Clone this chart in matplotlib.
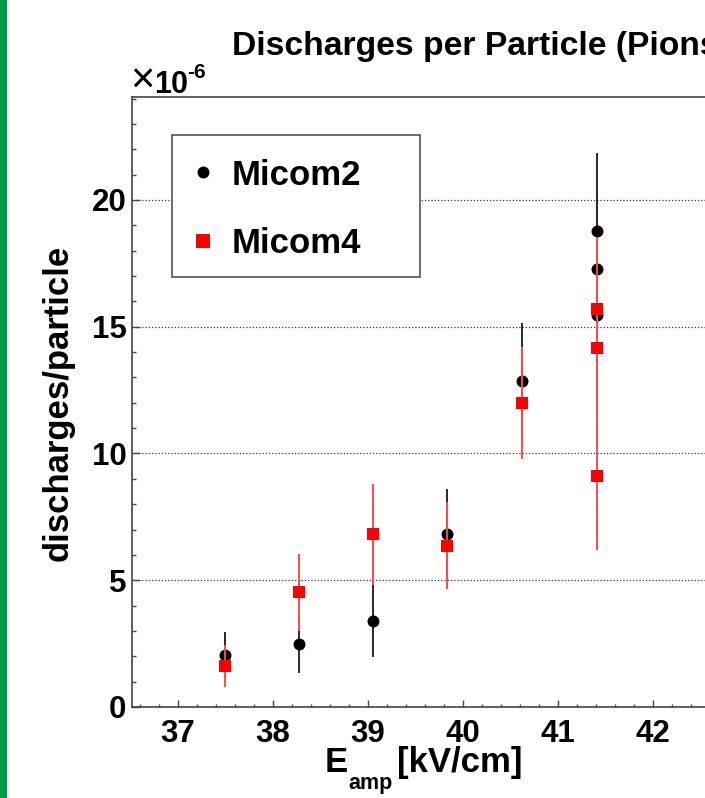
import matplotlib
matplotlib.use("Agg")
import matplotlib.pyplot as plt
from matplotlib.lines import Line2D
from matplotlib.patches import Rectangle
from matplotlib.ticker import MultipleLocator

# Amplification field [kV/cm] and discharge probability (units of 1e-6)
e_micom2 = [37.5, 38.28, 39.06, 39.84, 40.63, 41.41, 41.41, 41.41]
rate_micom2 = [2.05, 2.50, 3.38, 6.82, 12.87, 18.78, 17.27, 15.46]
err_micom2 = [0.92, 1.15, 1.42, 1.78, 2.29, 3.06, 2.95, 3.78]

e_micom4 = [37.5, 38.28, 39.06, 39.84, 40.63, 41.41, 41.41, 41.41]
rate_micom4 = [1.63, 4.52, 6.81, 6.36, 12.00, 15.69, 14.17, 9.10]
err_micom4 = [0.83, 1.53, 2.00, 1.71, 2.21, 2.84, 2.67, 2.90]

x_ticks = [37, 38, 39, 40, 41, 42]
y_ticks = [0, 5, 10, 15, 20]
series_names = ["Micom2", "Micom4"]

FONT = "Liberation Sans"
W, H = 705, 798
fig = plt.figure(figsize=(W / 100, H / 100), dpi=100)

xlim = (36.52, 43.0)
ylim = (0.0, 24.06)
px_per_x = 95.0
ax_left, ax_bottom, ax_top = 132, 91, 701
ax = fig.add_axes([ax_left / W, ax_bottom / H,
                   (xlim[1] - xlim[0]) * px_per_x / W, (ax_top - ax_bottom) / H])
ax.set_xlim(*xlim)
ax.set_ylim(*ylim)

# horizontal dotted grid at the major y ticks
for yv in y_ticks[1:]:
    ax.axhline(yv, color="#333333", lw=0.9, ls=(0, (1.0, 1.6)), zorder=1)

ax.errorbar(e_micom2, rate_micom2, yerr=err_micom2, fmt="o", color="black",
            ecolor="#2a2a2a", elinewidth=1.4, capsize=3.2, capthick=1.6,
            markersize=8.6, markeredgewidth=0, zorder=3)
ax.errorbar(e_micom4, rate_micom4, yerr=err_micom4, fmt="s", color="#ff0000",
            ecolor="#ff4a4a", elinewidth=1.4, capsize=3.2, capthick=1.6,
            markersize=8.6, markeredgewidth=0, zorder=4)

# axis frame: left, bottom, top lines
for side in ("left", "bottom", "top"):
    ax.spines[side].set_color("#444444")
    ax.spines[side].set_linewidth(1.2)
ax.spines["right"].set_visible(False)

ax.xaxis.set_minor_locator(MultipleLocator(0.2))
ax.yaxis.set_minor_locator(MultipleLocator(1))
ax.set_xticks(x_ticks)
ax.set_yticks(y_ticks)
ax.set_xticklabels([str(v) for v in x_ticks])
ax.set_yticklabels([str(v) for v in y_ticks])
ax.tick_params(axis="x", which="major", direction="in", length=5, width=1.0,
               color="#444444", pad=8.5, top=False)
ax.tick_params(axis="x", which="minor", direction="in", length=2.5, width=1.0,
               color="#444444", top=False)
ax.tick_params(axis="y", which="major", direction="in", length=5.8, width=1.0,
               color="#444444", pad=4, right=False)
ax.tick_params(axis="y", which="minor", direction="in", length=2.9, width=1.0,
               color="#444444", right=False)
for lab in ax.get_xticklabels() + ax.get_yticklabels():
    lab.set_fontfamily(FONT)
    lab.set_fontweight("bold")
    lab.set_fontsize(22.5)

# legend box (frame drawn separately so its size is fixed)
frame = Rectangle((172 / W, 1 - 277 / H), (420 - 172) / W, (277 - 135) / H,
                  transform=fig.transFigure, facecolor="white",
                  edgecolor="#555555", linewidth=1.2, zorder=9)
ax.add_artist(frame)

handles = [
    Line2D([], [], ls="none", marker="o", color="black", markersize=8.6, markeredgewidth=0),
    Line2D([], [], ls="none", marker="s", color="#ff0000", markersize=9.4, markeredgewidth=0),
]
leg = ax.legend(handles, series_names, loc="upper left",
                bbox_to_anchor=(170 / W, 1 - 143 / H),
                bbox_transform=fig.transFigure, frameon=False,
                borderaxespad=0, borderpad=0.45, handlelength=1.0,
                handletextpad=0.33, labelspacing=1.03,
                prop={"family": FONT, "weight": "bold", "size": 25})
leg.set_zorder(10)

# title and axis labels
fig.text(232 / W, 1 - 55 / H, "Discharges per Particle (Pions)", fontfamily=FONT,
         fontweight="bold", fontsize=24.2, ha="left", va="baseline")

fig.text(58 / W, 1 - 403 / H, "discharges/particle", rotation=90, fontfamily=FONT,
         fontweight="bold", fontsize=25, ha="center", va="center")

fig.text(325 / W, 1 - 772 / H, "E", fontfamily=FONT, fontweight="bold",
         fontsize=25, ha="left", va="baseline")
fig.text(348 / W, 1 - 789 / H, "amp", fontfamily=FONT, fontweight="bold",
         fontsize=15.5, ha="left", va="baseline")
fig.text(397 / W, 1 - 772 / H, "[kV/cm]", fontfamily=FONT, fontweight="bold",
         fontsize=25, ha="left", va="baseline")

# axis multiplier
fig.text(130 / W, 1 - 93 / H, "\u00d7", fontfamily=FONT, fontsize=30,
         ha="left", va="baseline")
fig.text(154 / W, 1 - 93 / H, "10", fontfamily=FONT, fontweight="bold",
         fontsize=22, ha="left", va="baseline")
fig.text(187 / W, 1 - 78 / H, "-6", fontfamily=FONT, fontweight="bold",
         fontsize=15, ha="left", va="baseline")

# green margin strip
fig.patches.append(Rectangle((0, 0), 7 / W, 1, transform=fig.transFigure,
                             facecolor="#009a44", edgecolor="none", zorder=0))

fig.savefig("out.png", dpi=100)
